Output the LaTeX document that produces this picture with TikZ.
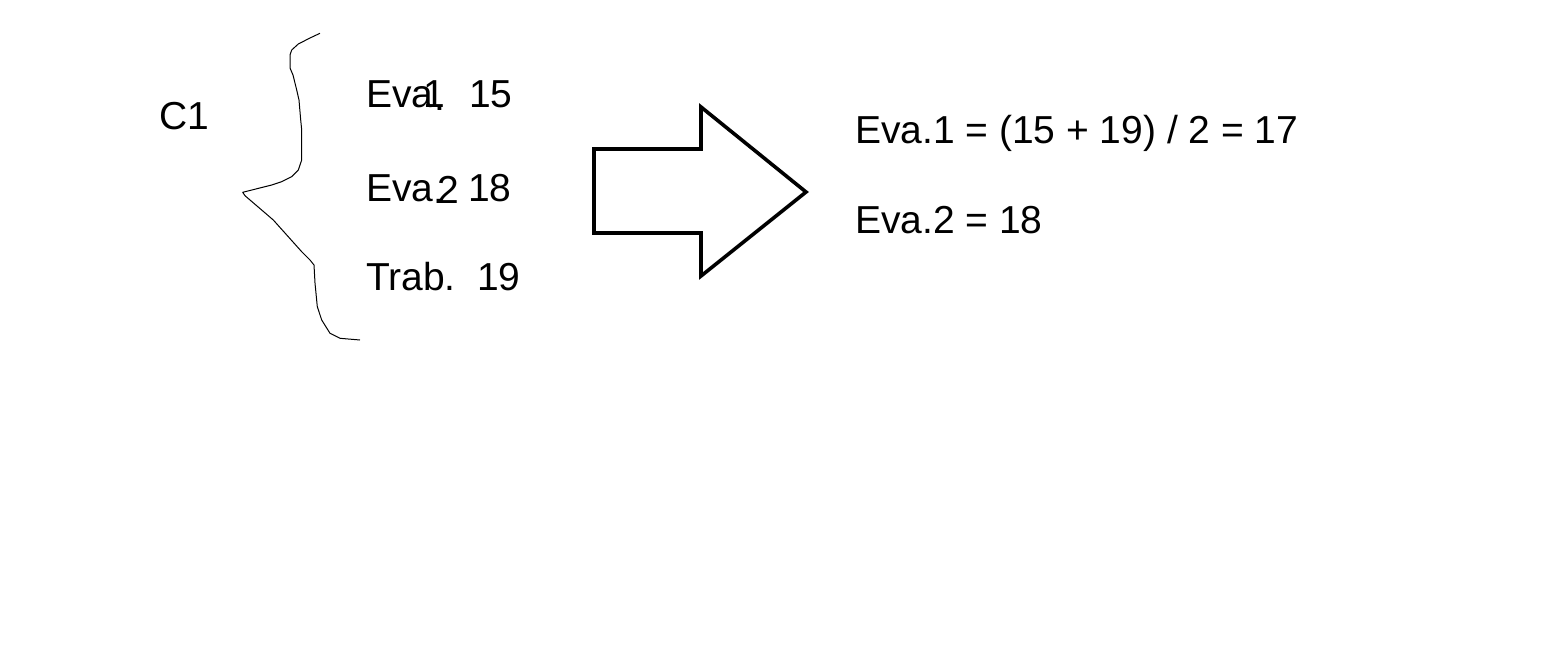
\documentclass[tikz,border=0pt]{standalone}
\usepackage{fontspec}
\setmainfont{Liberation Sans}
\begin{document}
\begin{tikzpicture}[x=1pt,y=-1pt,
  txt/.style={anchor=base west,inner sep=0pt,outer sep=0pt,font=\fontsize{39}{46}\selectfont},
  bracepath/.style={line width=1pt,line join=round},
  blockarrow/.style={line width=3.6pt,line join=miter,miter limit=3}]
\useasboundingbox[fill=white] (0,0) rectangle (1568,666);
% label
\node[txt] (c1) at (159,130) {C1};
% brace
\draw[bracepath] (320,33.3) -- (310,38) -- (298.3,44) -- (291.7,50) -- (290,55) -- (290,68) -- (293,75) -- (296.7,90) -- (299,100) -- (300.7,120) -- (301.7,130) -- (301.7,160) -- (298.3,170) -- (291.7,176.7) -- (281.7,181.7) -- (271.7,185) -- (242.7,192.3) -- (245,195.7) -- (273.3,220) -- (301.7,251.7) -- (310,260) -- (314,265) -- (315,283) -- (317.3,306.7) -- (321.7,320) -- (330,333.3) -- (340,338.3) -- (360,340);
% left list
\node[txt] (e1) at (366,108) {Eva};
\node[txt] (e1n) at (423,108) {1};
\node[txt] (e1d) at (434.5,111) {.};
\node[txt] (e1v) at (469,108) {15};
\node[txt] (e2) at (366,201) {Eva};
\node[txt] (e2d) at (433,203) {.};
\node[txt] (e2n) at (437,203) {2};
\node[txt] (e2v) at (468,201) {18};
\node[txt] (tr) at (366,290) {Trab.\ \ 19};
% block arrow
\draw[blockarrow] (594,149) -- (701,149) -- (701,107) -- (806,192) -- (701,276) -- (701,233) -- (594,233) -- cycle;
% results
\node[txt] (r1) at (855,143) {Eva.1 = (15 + 19) / 2 = 17};
\node[txt] (r2) at (855,233) {Eva.2 = 18};
\end{tikzpicture}
\end{document}
